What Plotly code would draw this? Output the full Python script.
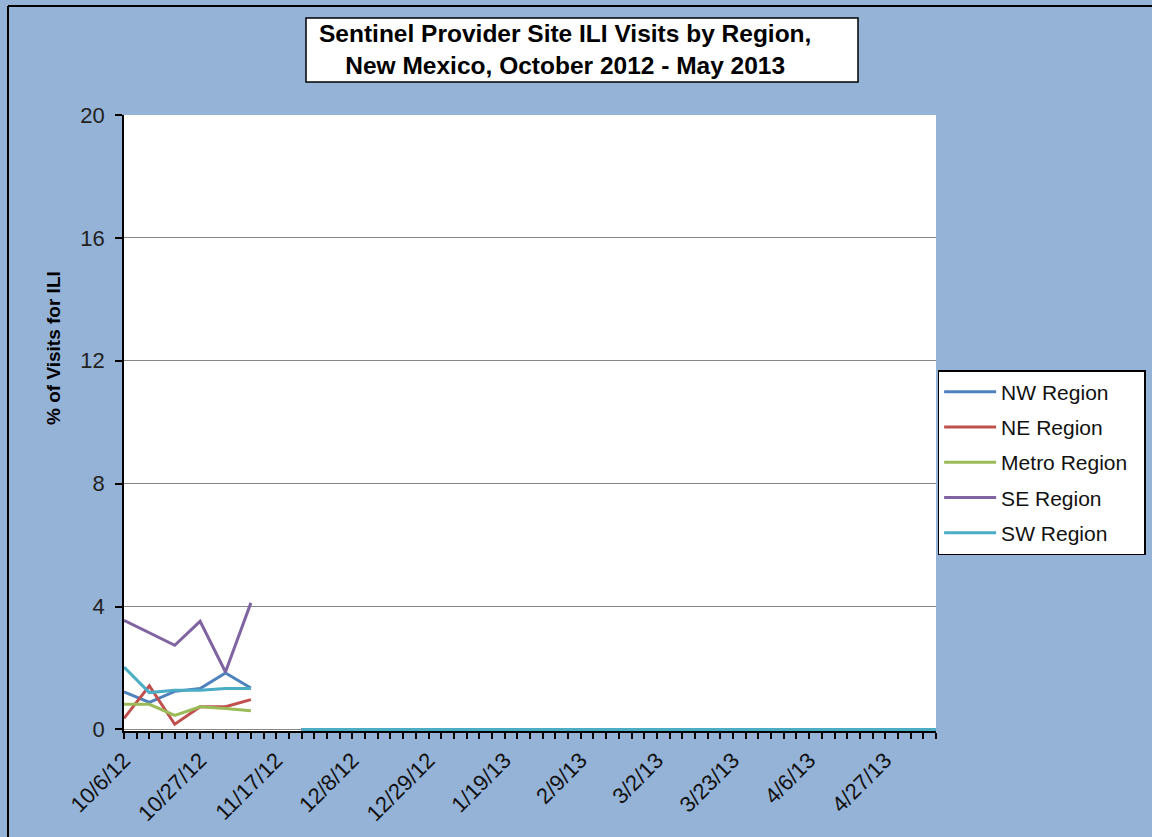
import plotly.graph_objects as go

weeks = ["10/6/12", "10/13/12", "10/20/12", "10/27/12", "11/3/12", "11/10/12", "11/17/12",
         "11/24/12", "12/1/12", "12/8/12", "12/15/12", "12/22/12", "12/29/12", "1/5/13",
         "1/12/13", "1/19/13", "1/26/13", "2/2/13", "2/9/13", "2/16/13", "2/23/13", "3/2/13",
         "3/9/13", "3/16/13", "3/23/13", "3/30/13", "4/1/13", "4/6/13", "4/13/13", "4/20/13",
         "4/27/13", "5/4/13", "5/11/13"]
tick_labels = ["10/6/12", "10/27/12", "11/17/12", "12/8/12", "12/29/12", "1/19/13",
               "2/9/13", "3/2/13", "3/23/13", "4/6/13", "4/27/13"]

nw = [1.22, 0.88, 1.24, 1.33, 1.84, 1.35, None,
      0, 0, 0, 0, 0, 0, 0, 0, 0, 0, 0, 0, 0, 0, 0, 0, 0, 0, 0, 0, 0, 0, 0, 0, 0, 0]
ne = [0.36, 1.42, 0.17, 0.74, 0.74, 0.97, None,
      0, 0, 0, 0, 0, 0, 0, 0, 0, 0, 0, 0, 0, 0, 0, 0, 0, 0, 0, 0, 0, 0, 0, 0, 0, 0]
metro = [0.82, 0.82, 0.46, 0.74, 0.68, 0.61, None,
         0, 0, 0, 0, 0, 0, 0, 0, 0, 0, 0, 0, 0, 0, 0, 0, 0, 0, 0, 0, 0, 0, 0, 0, 0, 0]
se = [3.55, 3.15, 2.74, 3.52, 1.87, 4.12, None,
      0, 0, 0, 0, 0, 0, 0, 0, 0, 0, 0, 0, 0, 0, 0, 0, 0, 0, 0, 0, 0, 0, 0, 0, 0, 0]
sw = [2.03, 1.20, 1.28, 1.28, 1.33, 1.33, None,
      0, 0, 0, 0, 0, 0, 0, 0, 0, 0, 0, 0, 0, 0, 0, 0, 0, 0, 0, 0, 0, 0, 0, 0, 0, 0]

series = [("NW Region", nw, "#4F81BD"),
          ("NE Region", ne, "#C0504D"),
          ("Metro Region", metro, "#9BBB59"),
          ("SE Region", se, "#8064A2"),
          ("SW Region", sw, "#4BACC6")]

x_pos = list(range(len(weeks)))
tick_pos = [weeks.index(t) for t in tick_labels]

FONT = "Liberation Sans, Arial, sans-serif"


def px(xp):
    return (xp - 124) / 812


def py(yp):
    return (731 - yp) / 616


fig = go.Figure()
for name, vals, col in series:
    fig.add_trace(go.Scatter(x=x_pos, y=vals, mode="lines", name=name + "\u00a0\u00a0",
                             legendgroup=name,
                             line=dict(color=col, width=3), connectgaps=False))

fig.update_layout(
    width=1152, height=837,
    paper_bgcolor="#95B3D7", plot_bgcolor="white",
    margin=dict(l=124, r=216, t=115, b=106, autoexpand=False),
    font=dict(family=FONT, color="#111111"),
    showlegend=True,
    legend=dict(x=1.002, y=py(370), xanchor="left", yanchor="top",
                bgcolor="white", bordercolor="black", borderwidth=1.5,
                font=dict(size=21, family=FONT, color="#111111"),
                tracegroupgap=5, traceorder="grouped", itemwidth=52),
    xaxis=dict(range=[0, 32], tickmode="array", tickvals=tick_pos, ticktext=tick_labels,
               tickangle=-45, ticks="outside", ticklen=6, tickcolor="black", tickwidth=1.5,
               minor=dict(tickmode="linear", tick0=0, dtick=0.5, ticks="outside",
                          ticklen=6, tickcolor="black", tickwidth=1.5),
               showline=True, linecolor="black", linewidth=1.5, showgrid=False,
               zeroline=False, layer="below traces",
               tickfont=dict(size=22, family=FONT, color="#111111")),
    yaxis=dict(range=[-0.05, 20], tickmode="array", tickvals=[0, 4, 8, 12, 16, 20],
               ticks="outside", ticklen=7, tickcolor="black", tickwidth=1.5,
               showline=True, linecolor="black", linewidth=1.5,
               showgrid=True, gridcolor="#868686", gridwidth=1, zeroline=False,
               ticklabelstandoff=6,
               tickfont=dict(size=22, family=FONT, color="#222222")),
)

# title box
fig.add_shape(type="rect", xref="paper", yref="paper",
              x0=px(306), x1=px(858), y0=py(82), y1=py(18),
              fillcolor="white", line=dict(color="black", width=1.5), layer="above")
fig.add_annotation(xref="paper", yref="paper", x=px(565), y=py(50),
                   xanchor="center", yanchor="middle", showarrow=False,
                   text="<b>Sentinel Provider Site ILI Visits by Region,<br>New Mexico, October 2012 - May 2013</b>",
                   font=dict(size=24.5, family=FONT, color="black"))

fig.add_annotation(xref="paper", yref="paper", x=px(53), y=py(348),
                   xanchor="center", yanchor="middle", showarrow=False, textangle=-90,
                   text="<b>% of Visits for ILI</b>",
                   font=dict(size=19, family=FONT, color="black"))

# outer frame (left and top edges visible)
fig.add_shape(type="line", xref="paper", yref="paper",
              x0=px(8), x1=px(8), y0=py(840), y1=py(6),
              line=dict(color="black", width=2))
fig.add_shape(type="line", xref="paper", yref="paper",
              x0=px(8), x1=px(1160), y0=py(6), y1=py(6),
              line=dict(color="black", width=2))

fig.write_html("out.html", config={"displayModeBar": False},
               post_script="document.body.style.margin='0px';")
